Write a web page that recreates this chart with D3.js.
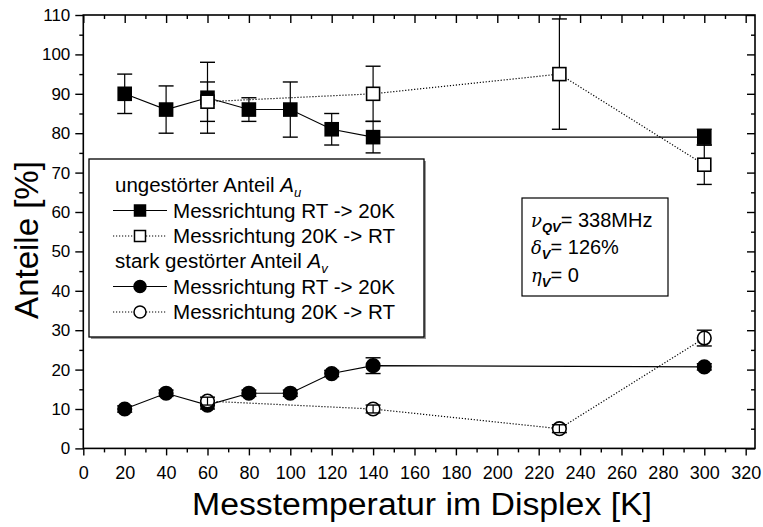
<!DOCTYPE html>
<html><head><meta charset="utf-8">
<script src="https://cdn.jsdelivr.net/npm/d3@7"></script>
<style>
body{margin:0;background:#fff}
svg{display:block}
text{font-family:"Liberation Sans",Arial,sans-serif;fill:#000}
</style>
</head><body>
<script>
// Temperatures (K) for both measurement directions
const tempsDown = [20, 40, 60, 80, 100, 120, 140, 300];   // RT -> 20K
const tempsUp   = [60, 140, 230, 300];                      // 20K -> RT

// Undisturbed fraction A_u (%) and errors
const auDown    = [90, 86, 89, 86, 86, 81, 79, 79];
const auDownErr = [5, 6, 9, 3, 7, 4, 4, 2];
const auUp      = [88, 90, 95, 72];
const auUpErr   = [5, 7, 14, 5];

// Strongly disturbed fraction A_v (%) and errors
const avDown    = [10, 14, 11, 14, 14, 19, 21, 20.7];
const avDownErr = [0.8, 0.8, 1, 0.8, 0.8, 0.8, 2, 0.8];
const avUp      = [12, 10, 5, 28];
const avUpErr   = [1, 1, 1, 2];

const xMajor = d3.range(0, 321, 20);
const xMinor = d3.range(10, 321, 20);
const yMajor = d3.range(0, 111, 10);
const yMinor = d3.range(5, 111, 10);

const W = 763, H = 527;
const pLeft = 83.3, pRight = 755, pTop = 15, pBottom = 448.4;

const x = d3.scaleLinear().domain([0, 324.5]).range([pLeft, pRight]);
const y = d3.scaleLinear().domain([0, 110]).range([pBottom, pTop]);

const svg = d3.select("body").append("svg").attr("width", W).attr("height", H);

// frame
svg.append("rect").attr("x", pLeft).attr("y", pTop)
  .attr("width", pRight - pLeft).attr("height", pBottom - pTop)
  .attr("fill", "none").attr("stroke", "#000").attr("stroke-width", 1.6);

function styleAxis(g) {
  g.select(".domain").remove();
  g.selectAll("line").attr("stroke", "#000").attr("stroke-width", 1.4);
}
const tickFont = "'Liberation Sans',Arial,sans-serif";

// bottom axis: outward ticks
svg.append("g").attr("transform", `translate(0,${pBottom})`)
  .call(d3.axisBottom(x).tickValues(xMajor).tickSize(7).tickPadding(11).tickFormat(d3.format("d")))
  .call(styleAxis)
  .call(g => g.selectAll("text").attr("font-size", 18).style("font-family", tickFont));
svg.append("g").attr("transform", `translate(0,${pBottom})`)
  .call(d3.axisBottom(x).tickValues(xMinor).tickSize(4).tickFormat(""))
  .call(styleAxis);

// top axis: inward ticks
svg.append("g").attr("transform", `translate(0,${pTop})`)
  .call(d3.axisBottom(x).tickValues(xMajor).tickSize(8).tickFormat(""))
  .call(styleAxis);
svg.append("g").attr("transform", `translate(0,${pTop})`)
  .call(d3.axisBottom(x).tickValues(xMinor).tickSize(4).tickFormat(""))
  .call(styleAxis);

// left axis: outward ticks
svg.append("g").attr("transform", `translate(${pLeft},0)`)
  .call(d3.axisLeft(y).tickValues(yMajor).tickSize(8).tickPadding(5).tickFormat(d3.format("d")))
  .call(styleAxis)
  .call(g => g.selectAll("text").attr("font-size", 17).style("font-family", tickFont));
svg.append("g").attr("transform", `translate(${pLeft},0)`)
  .call(d3.axisLeft(y).tickValues(yMinor).tickSize(4).tickFormat(""))
  .call(styleAxis);

// right axis: inward ticks
svg.append("g").attr("transform", `translate(${pRight},0)`)
  .call(d3.axisLeft(y).tickValues(yMajor).tickSize(8).tickFormat(""))
  .call(styleAxis);
svg.append("g").attr("transform", `translate(${pRight},0)`)
  .call(d3.axisLeft(y).tickValues(yMinor).tickSize(4).tickFormat(""))
  .call(styleAxis);

// axis titles
svg.append("text").attr("x", 422).attr("y", 515)
  .attr("text-anchor", "middle").attr("font-size", 31)
  .attr("textLength", 460).attr("lengthAdjust", "spacingAndGlyphs")
  .text("Messtemperatur im Displex [K]");
svg.append("text").attr("transform", "translate(38,240) rotate(-90)")
  .attr("text-anchor", "middle").attr("font-size", 33)
  .text("Anteile [%]");

const zip = (xs, vs, es) => xs.map((t, i) => ({t, v: vs[i], e: es[i]}));

const solid = d3.line().x(d => x(d.t)).y(d => y(d.v));
const plot = svg.append("g");

function drawLine(data, dotted) {
  plot.append("path").datum(data).attr("d", solid)
    .attr("fill", "none").attr("stroke", "#000")
    .attr("stroke-width", dotted ? 1.2 : 1.1)
    .attr("stroke-dasharray", dotted ? "1.2,1.8" : null);
}
function drawErr(data) {
  const g = plot.append("g");
  data.forEach(d => {
    const cx = x(d.t), y1 = y(d.v - d.e), y2 = y(d.v + d.e);
    g.append("line").attr("x1", cx).attr("x2", cx).attr("y1", y1).attr("y2", y2)
      .attr("stroke", "#000").attr("stroke-width", 1.2);
    [y1, y2].forEach(yy => g.append("line").attr("x1", cx - 7.5).attr("x2", cx + 7.5)
      .attr("y1", yy).attr("y2", yy).attr("stroke", "#000").attr("stroke-width", 1.4));
  });
}
function drawSquares(data, filled) {
  plot.append("g").selectAll("rect").data(data).join("rect")
    .attr("x", d => x(d.t) - 6.5).attr("y", d => y(d.v) - 6.5)
    .attr("width", 13).attr("height", 13)
    .attr("fill", filled ? "#000" : "#fff").attr("stroke", "#000").attr("stroke-width", 1.6);
}
function drawCircles(data, filled) {
  plot.append("g").selectAll("circle").data(data).join("circle")
    .attr("cx", d => x(d.t)).attr("cy", d => y(d.v)).attr("r", 6.8)
    .attr("fill", filled ? "#000" : "#fff").attr("stroke", "#000").attr("stroke-width", 1.6);
}

const sqDown = zip(tempsDown, auDown, auDownErr);
const sqUp = zip(tempsUp, auUp, auUpErr);
const ciDown = zip(tempsDown, avDown, avDownErr);
const ciUp = zip(tempsUp, avUp, avUpErr);

// A_u series
drawLine(sqDown, false);
drawErr(sqDown);
drawSquares(sqDown, true);
drawLine(sqUp, true);
drawErr(sqUp);
drawSquares(sqUp, false);

// A_v series
drawLine(ciDown, false);
drawCircles(ciDown, true);
drawErr(ciDown);
drawLine(ciUp, true);
drawCircles(ciUp, false);
drawErr(ciUp);

// legend
const lg = svg.append("g");
lg.append("rect").attr("x", 91).attr("y", 161).attr("width", 335).attr("height", 178).attr("fill", "#999");
lg.append("rect").attr("x", 89).attr("y", 159).attr("width", 335).attr("height", 178)
  .attr("fill", "#fff").attr("stroke", "#000").attr("stroke-width", 1.3);

const rows = [192, 217.5, 243, 268, 293.5, 319];
function header(yy, label, sym, sub) {
  const t = lg.append("text").attr("x", 115).attr("y", yy).attr("font-size", 20.5);
  t.append("tspan").text(label + " ");
  t.append("tspan").attr("font-style", "italic").text(sym);
  t.append("tspan").attr("font-style", "italic").attr("font-size", 13).attr("dy", 5).text(sub);
}
function entry(yy, label, dotted, shape, filled) {
  const cy = yy - 7;
  lg.append("line").attr("x1", 113).attr("x2", 167).attr("y1", cy).attr("y2", cy)
    .attr("stroke", "#000").attr("stroke-width", dotted ? 1.2 : 1.1)
    .attr("stroke-dasharray", dotted ? "1.2,1.8" : null);
  if (shape === "square") {
    lg.append("rect").attr("x", 134.5).attr("y", cy - 5.5).attr("width", 11).attr("height", 11)
      .attr("fill", filled ? "#000" : "#fff").attr("stroke", "#000").attr("stroke-width", 1.5);
  } else {
    lg.append("circle").attr("cx", 140).attr("cy", cy).attr("r", 6)
      .attr("fill", filled ? "#000" : "#fff").attr("stroke", "#000").attr("stroke-width", 1.5);
  }
  lg.append("text").attr("x", 173).attr("y", yy).attr("font-size", 20.5)
    .attr("textLength", 222).attr("lengthAdjust", "spacingAndGlyphs").text(label);
}
header(rows[0], "ungestörter Anteil", "A", "u");
entry(rows[1], "Messrichtung RT -> 20K", false, "square", true);
entry(rows[2], "Messrichtung 20K -> RT", true, "square", false);
header(rows[3], "stark gestörter Anteil", "A", "v");
entry(rows[4], "Messrichtung RT -> 20K", false, "circle", true);
entry(rows[5], "Messrichtung 20K -> RT", true, "circle", false);

// parameter box
const pb = svg.append("g");
pb.append("rect").attr("x", 522).attr("y", 198).attr("width", 146).attr("height", 98)
  .attr("fill", "#fff").attr("stroke", "#000").attr("stroke-width", 1.2);
const params = [
  {sym: "ν", sub: "QV", val: "= 338MHz", yy: 227},
  {sym: "δ", sub: "V", val: "= 126%", yy: 254},
  {sym: "η", sub: "V", val: "= 0", yy: 282}
];
params.forEach(p => {
  const t = pb.append("text").attr("x", 531).attr("y", p.yy).attr("font-size", 20);
  t.append("tspan").attr("font-style", "italic").attr("font-family", "'DejaVu Serif',serif").attr("font-size", 18).text(p.sym);
  t.append("tspan").attr("font-style", "italic").attr("font-weight", "bold").attr("font-size", 13).attr("dy", 5).text(p.sub);
  t.append("tspan").attr("dy", -5).text(p.val);
});
</script>
</body></html>
